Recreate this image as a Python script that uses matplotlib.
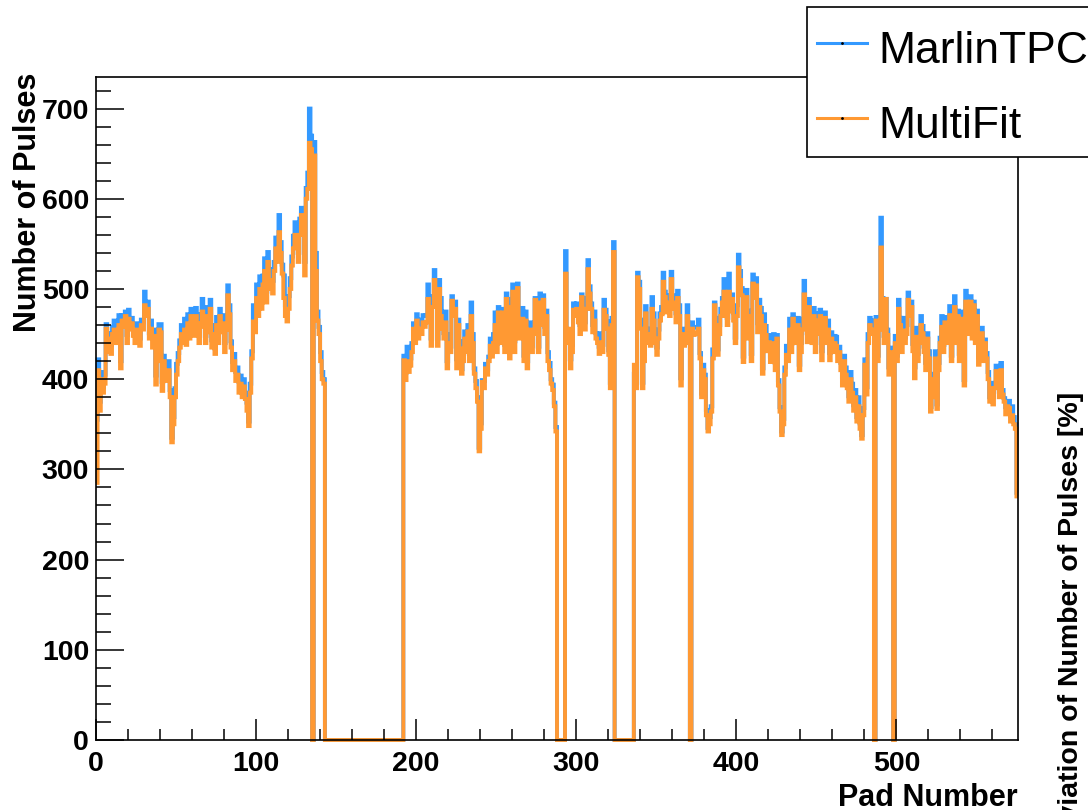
import numpy as np
import matplotlib
matplotlib.use('Agg')
import matplotlib.pyplot as plt
from matplotlib.lines import Line2D
from matplotlib.patches import Rectangle
from matplotlib.ticker import MultipleLocator

## pulses per pad, MultiFit reconstruction (pads 0..575)
multifit = [
    285, 410, 365, 400, 385, 395, 456, 430, 445, 428,
    450, 455, 440, 452, 460, 412, 465, 458, 470, 440,
    467, 455, 462, 448, 440, 455, 450, 437, 460, 455,
    482, 470, 478, 445, 456, 435, 448, 394, 420, 455,
    452, 387, 420, 400, 398, 410, 380, 330, 350, 380,
    405, 420, 435, 450, 440, 455, 438, 462, 445, 470,
    462, 448, 470, 455, 440, 462, 475, 458, 440, 470,
    452, 478, 435, 450, 428, 460, 440, 470, 452, 462,
    430, 455, 493, 472, 435, 410, 420, 398, 405, 385,
    395, 380, 392, 378, 365, 348, 385, 423, 464, 452,
    490, 470, 500, 478, 505, 520, 485, 530, 500, 510,
    495, 520, 545, 530, 563, 540, 517, 490, 470, 464,
    478, 500, 526, 545, 560, 548, 530, 560, 582, 570,
    515, 600, 611, 662, 655, 0, 648, 520, 465, 450,
    420, 400, 395, 0, 0, 0, 0, 0, 0, 0,
    0, 0, 0, 0, 0, 0, 0, 0, 0, 0,
    0, 0, 0, 0, 0, 0, 0, 0, 0, 0,
    0, 0, 0, 0, 0, 0, 0, 0, 0, 0,
    0, 0, 0, 0, 0, 0, 0, 0, 0, 0,
    0, 0, 421, 399, 420, 408, 415, 430, 456, 440,
    465, 445, 456, 450, 463, 458, 463, 489, 470, 437,
    480, 510, 490, 437, 500, 470, 456, 445, 463, 412,
    440, 430, 487, 470, 478, 412, 460, 434, 406, 420,
    445, 430, 453, 420, 470, 440, 406, 390, 375, 320,
    345, 397, 390, 412, 405, 420, 437, 425, 440, 460,
    430, 474, 450, 440, 474, 430, 489, 460, 423, 480,
    497, 430, 470, 501, 445, 460, 467, 420, 465, 412,
    440, 455, 430, 450, 488, 470, 430, 485, 460, 488,
    450, 470, 420, 410, 395, 388, 370, 342, 0, 0,
    0, 0, 0, 517, 440, 456, 412, 430, 477, 470,
    478, 463, 450, 491, 470, 455, 478, 522, 495, 478,
    452, 465, 445, 440, 428, 441, 430, 477, 470, 456,
    427, 390, 460, 541, 0, 0, 0, 0, 0, 0,
    0, 0, 0, 0, 0, 0, 416, 390, 513, 500,
    456, 390, 420, 473, 440, 450, 437, 478, 465, 440,
    427, 445, 465, 472, 508, 491, 474, 485, 470, 511,
    485, 478, 463, 490, 470, 393, 450, 437, 440, 470,
    440, 0, 456, 449, 452, 450, 456, 423, 380, 410,
    400, 360, 342, 350, 364, 423, 482, 460, 427, 450,
    470, 485, 497, 470, 460, 497, 475, 489, 465, 440,
    470, 524, 510, 493, 419, 480, 491, 445, 470, 420,
    506, 490, 504, 452, 480, 470, 406, 460, 449, 431,
    441, 419, 435, 440, 410, 445, 393, 364, 338, 350,
    405, 427, 420, 455, 430, 467, 450, 440, 460, 410,
    430, 455, 494, 478, 441, 480, 455, 440, 470, 430,
    465, 450, 470, 421, 460, 468, 440, 455, 421, 445,
    430, 440, 437, 420, 430, 410, 393, 420, 405, 390,
    375, 400, 385, 365, 380, 353, 370, 345, 334, 360,
    416, 383, 440, 460, 450, 455, 0, 465, 420, 455,
    546, 480, 440, 489, 449, 405, 430, 420, 0, 440,
    420, 478, 460, 430, 454, 440, 450, 488, 470, 480,
    431, 401, 447, 420, 440, 460, 451, 430, 410, 445,
    423, 364, 400, 380, 423, 367, 410, 440, 458, 430,
    463, 450, 440, 471, 420, 460, 480, 440, 470, 420,
    467, 440, 393, 486, 470, 450, 486, 445, 482, 440,
    470, 416, 440, 451, 420, 440, 423, 400, 375, 390,
    372, 390, 409, 400, 380, 410, 383, 375, 361, 370,
    368, 353, 360, 350, 345, 270,
]

## how many more pulses MarlinTPC finds on each pad
marlin_excess = [
    70, 12, 10, 8, 6, 10, 5, 8, 6, 10,
    8, 10, 12, 6, 11, 8, 6, 10, 5, 9,
    10, 8, 6, 12, 10, 7, 9, 8, 6, 8,
    15, 10, 8, 6, 9, 12, 7, 10, 8, 6,
    9, 10, 6, 8, 7, 10, 8, 5, 8, 10,
    12, 9, 8, 10, 7, 12, 8, 10, 9, 8,
    10, 8, 9, 12, 8, 10, 14, 9, 8, 10,
    12, 10, 8, 10, 6, 9, 12, 8, 10, 9,
    10, 8, 11, 10, 7, 9, 8, 10, 8, 12,
    9, 10, 8, 7, 9, 5, 10, 8, 18, 12,
    15, 12, 14, 20, 10, 14, 12, 11, 20, 12,
    14, 10, 12, 15, 19, 12, 10, 25, 12, 10,
    14, 12, 10, 14, 14, 12, 10, 18, 8, 12,
    15, 12, 18, 38, 15, 0, 15, 20, 10, 8,
    10, 8, 5, 0, 0, 0, 0, 0, 0, 0,
    0, 0, 0, 0, 0, 0, 0, 0, 0, 0,
    0, 0, 0, 0, 0, 0, 0, 0, 0, 0,
    0, 0, 0, 0, 0, 0, 0, 0, 0, 0,
    0, 0, 0, 0, 0, 0, 0, 0, 0, 0,
    0, 0, 5, 8, 16, 12, 8, 10, 6, 15,
    7, 12, 10, 8, 8, 12, 8, 16, 10, 8,
    12, 11, 15, 8, 10, 20, 8, 6, 12, 8,
    10, 6, 5, 8, 8, 10, 6, 8, 5, 8,
    8, 10, 7, 8, 15, 10, 6, 8, 5, 4,
    6, 2, 8, 5, 6, 5, 8, 6, 10, 14,
    9, 6, 8, 10, 4, 8, 6, 10, 8, 9,
    8, 12, 6, 5, 8, 10, 12, 6, 10, 8,
    6, 8, 7, 12, 2, 8, 6, 10, 8, 5,
    8, 6, 10, 8, 5, 6, 4, 5, 0, 0,
    0, 0, 0, 25, 6, -8, 10, 8, 7, 10,
    6, 8, 10, 3, 10, 8, 12, 10, 8, 6,
    8, 10, 6, 5, 8, 10, 8, 11, 7, 8,
    5, 6, 8, 11, 0, 0, 0, 0, 0, 0,
    0, 0, 0, 0, 0, 0, -10, 5, 5, 8,
    10, 6, 8, 8, 10, 6, 8, 13, 8, 6,
    8, 10, 8, 8, 10, 6, 8, 8, 12, 8,
    8, 6, 10, 8, 12, 8, 6, 8, 10, 12,
    10, 0, 7, 8, 5, 8, 10, 6, 4, 6,
    5, 6, 4, 8, 6, 10, 3, 8, 6, 10,
    8, 5, 14, 12, 8, 20, 10, 5, 8, 6,
    12, 14, 10, 8, 6, 11, 8, 10, 6, 8,
    10, 12, 8, 10, 8, 9, 6, 12, 10, 8,
    8, 6, 12, 10, 8, 4, 6, 5, 4, 6,
    8, 10, 6, 12, 9, 5, 12, 10, 8, 6,
    10, 12, 15, 8, 10, 9, 12, 8, 9, 10,
    8, 12, 7, 10, 8, 6, 12, 10, 8, 7,
    9, 8, 10, 12, 6, 8, 10, 6, 8, 10,
    6, 8, 10, 6, 8, 5, 10, 6, 4, 8,
    6, 8, 10, 8, 12, 10, 0, 4, 6, 10,
    33, 10, 8, 0, 6, 8, 5, 6, 0, 8,
    6, 10, 8, 12, 14, 6, 10, 8, 10, 6,
    8, 12, 10, 8, 6, 10, 8, 6, 8, 6,
    8, 5, 6, 5, 8, 5, 8, 6, 12, 8,
    6, 13, 8, 10, 6, 8, 12, 15, 6, 8,
    8, 10, 6, 12, 10, 8, 6, 10, 4, 8,
    6, 8, 10, 6, 8, 4, 6, 8, 5, 6,
    8, 4, 6, 10, 6, 8, 5, 4, 8, 6,
    8, 6, 10, 8, 5, 4,
]

labels = ['MarlinTPC', 'MultiFit']
colors = ['#3399ff', '#ff9933']

multifit = np.array(multifit)
marlin = multifit + np.array(marlin_excess)
edges = np.arange(len(multifit) + 1)

plt.rcParams['font.family'] = ['Liberation Sans', 'DejaVu Sans']

W, H = 1088, 810
fig = plt.figure(figsize=(W / 100, H / 100), dpi=100, facecolor='white')
ax = fig.add_axes([96 / W, 70 / H, 922 / W, 663 / H])

ax.stairs(marlin, edges, color=colors[0], linewidth=2.8, baseline=None, clip_on=False)
ax.stairs(multifit, edges, color=colors[1], linewidth=2.8, baseline=None, clip_on=False)

ax.set_xlim(0, 576)
ax.set_ylim(0, 735)

ax.xaxis.set_major_locator(MultipleLocator(100))
ax.xaxis.set_minor_locator(MultipleLocator(20))
ax.yaxis.set_major_locator(MultipleLocator(100))
ax.yaxis.set_minor_locator(MultipleLocator(20))
ax.tick_params(which='both', direction='in', width=1.1, top=False, right=False,
               labelsize=20.5)
ax.tick_params(axis='x', which='major', length=15, pad=8)
ax.tick_params(axis='x', which='minor', length=8)
ax.tick_params(axis='y', which='major', length=20, pad=5)
ax.tick_params(axis='y', which='minor', length=11)
for lab in ax.get_xticklabels() + ax.get_yticklabels():
    lab.set_fontweight('bold')
for sp in ax.spines.values():
    sp.set_linewidth(1.2)

# axis titles
fig.text(1018 / W, 1 - 806 / H, 'Pad Number', ha='right', va='baseline',
         fontsize=22, fontweight='bold')
fig.text(28 / W, 1 - 73 / H, 'Number of Pulses', rotation=90, ha='center', va='top',
         fontsize=22, fontweight='bold')
fig.text(1071 / W, 1 - 392 / H, 'Deviation of Number of Pulses [%]', rotation=90,
         ha='center', va='top', fontsize=20.5, fontweight='bold')

# legend box
fig.add_artist(Rectangle((807 / W, 1 - 157 / H), 400 / W, 150 / H,
                         transform=fig.transFigure, facecolor='white',
                         edgecolor='black', linewidth=1.2, zorder=5))
for i, (lab, col) in enumerate(zip(labels, colors)):
    ly = 1 - (43 + 75 * i) / H
    fig.add_artist(Line2D([817 / W, 867 / W], [ly, ly], transform=fig.transFigure,
                          color=col, linewidth=2.2, zorder=6))
    fig.add_artist(Line2D([842 / W], [ly], transform=fig.transFigure, marker='.',
                          markersize=2, color='black', zorder=7))
    fig.text(878 / W, 1 - (63 + 75 * i) / H, lab, ha='left', va='baseline',
             fontsize=32, zorder=7)

plt.savefig('out.png', dpi=100)
